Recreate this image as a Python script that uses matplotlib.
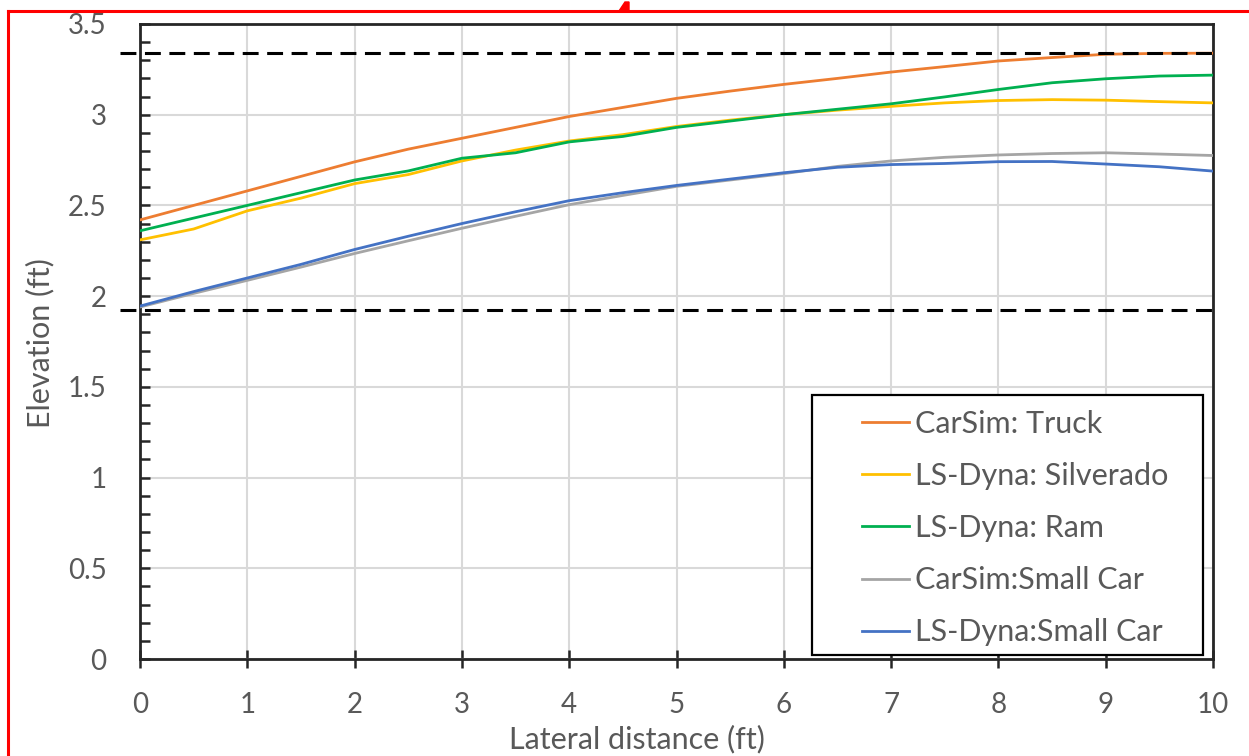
import numpy as np
import matplotlib.pyplot as plt
from matplotlib.lines import Line2D
from matplotlib.patches import Rectangle, Polygon
from matplotlib.ticker import MultipleLocator, FormatStrFormatter

# ------------------------------------------------
# Data
# ------------------------------------------------
lateral_ft = [0, 0.5, 1, 1.5, 2, 2.5, 3, 3.5, 4, 4.5, 5,
              5.5, 6, 6.5, 7, 7.5, 8, 8.5, 9, 9.5, 10]

carsim_truck = [2.42, 2.50, 2.58, 2.66, 2.74, 2.81, 2.87, 2.93, 2.99, 3.04, 3.09,
                3.13, 3.167, 3.20, 3.235, 3.265, 3.296, 3.315, 3.333, 3.338, 3.339]
lsdyna_silverado = [2.31, 2.37, 2.47, 2.54, 2.62, 2.67, 2.745, 2.805, 2.855, 2.89, 2.935,
                    2.97, 3.00, 3.025, 3.046, 3.065, 3.078, 3.083, 3.08, 3.072, 3.065]
lsdyna_ram = [2.36, 2.43, 2.50, 2.57, 2.64, 2.69, 2.76, 2.79, 2.85, 2.88, 2.93,
              2.965, 3.00, 3.03, 3.06, 3.098, 3.139, 3.176, 3.198, 3.213, 3.218]
carsim_small = [1.94, 2.015, 2.087, 2.16, 2.235, 2.305, 2.374, 2.44, 2.504, 2.555, 2.605,
                2.64, 2.675, 2.715, 2.745, 2.765, 2.778, 2.786, 2.79, 2.783, 2.775]
lsdyna_small = [1.945, 2.025, 2.10, 2.175, 2.257, 2.33, 2.40, 2.465, 2.526, 2.57, 2.61,
                2.645, 2.68, 2.71, 2.725, 2.731, 2.741, 2.742, 2.728, 2.713, 2.689]

series_labels = ["CarSim: Truck", "LS-Dyna: Silverado", "LS-Dyna: Ram",
                 "CarSim:Small Car", "LS-Dyna:Small Car"]
series_colors = ["#ED7D31", "#FFC000", "#00B050", "#A5A5A5", "#4472C4"]

# dashed reference levels
upper_level = 3.34
lower_level = 1.925
dash_x = [-0.19, 10]

# ------------------------------------------------
# Figure setup
# ------------------------------------------------
plt.rcParams["font.family"] = ["Lato", "DejaVu Sans"]
text_color = "#595959"

fig = plt.figure(figsize=(12.49, 7.56), dpi=100)
ax = fig.add_axes([0.1121, 0.1283, 0.8591, 0.84])

all_series = [carsim_truck, lsdyna_silverado, lsdyna_ram, carsim_small, lsdyna_small]
for values, label, color in zip(all_series, series_labels, series_colors):
    ax.plot(lateral_ft, values, color=color, linewidth=2.0, label=label, zorder=3)

# dashed lines (they stick out a bit left of the axis)
for level in [upper_level, lower_level]:
    line, = ax.plot(dash_x, [level, level], color="black", linewidth=2.2,
                    zorder=4, clip_on=False)
    line.set_dashes((5.2, 2.8))

ax.set_xlim(0, 10)
ax.set_ylim(0, 3.5)
ax.xaxis.set_major_locator(MultipleLocator(1))
ax.yaxis.set_major_locator(MultipleLocator(0.5))
ax.yaxis.set_minor_locator(MultipleLocator(0.1))
ax.yaxis.set_major_formatter(FormatStrFormatter("%g"))

ax.grid(True, which="major", color="#d9d9d9", linewidth=1.5, zorder=0)
ax.set_axisbelow(True)

for side in ["left", "bottom", "top", "right"]:
    ax.spines[side].set_color("#262626")
    ax.spines[side].set_linewidth(2)

ax.tick_params(axis="x", which="major", direction="inout", length=13, width=1.8,
               color="#262626", labelsize=20, labelcolor=text_color, pad=17)
ax.tick_params(axis="y", which="both", direction="in", length=7, width=1.8,
               color="#262626", labelsize=20, labelcolor=text_color, pad=24)

ax.set_xlabel("Lateral distance (ft)", fontsize=22, color=text_color)
ax.xaxis.set_label_coords(0.463, -0.103)
ax.set_ylabel("Elevation (ft)", fontsize=22, color=text_color)
ax.yaxis.set_label_coords(-0.0795, 0.498)

# legend: drawn without frame, then a plain box around it
ax.add_patch(Rectangle((0.6263, 0.0063), 0.3644, 0.4094, transform=ax.transAxes,
                       facecolor="white", edgecolor="black", linewidth=1.6, zorder=5))
leg = ax.legend(loc="upper left", bbox_to_anchor=(0.6585, 0.4165), frameon=False,
                fontsize=22, borderpad=0, handlelength=1.55, handletextpad=0.2,
                labelspacing=0.79, labelcolor=text_color)
leg.set_zorder(6)

# red outline from the screenshot
fig.add_artist(Line2D([0.0068, 1.0], [0.9854, 0.9854], color="red", linewidth=2.2,
                      transform=fig.transFigure))
fig.add_artist(Line2D([0.0068, 0.0068], [0.0, 0.9854], color="red", linewidth=2.2,
                      transform=fig.transFigure))
mark = [(619 / 1249, 1 - 11 / 756), (625 / 1249, 1 - 2 / 756), (629 / 1249, 1 - 2 / 756), (629 / 1249, 1 - 11 / 756)]
fig.add_artist(Polygon(mark, closed=True, color="red", transform=fig.transFigure))

fig.savefig("out.png", dpi=100)
